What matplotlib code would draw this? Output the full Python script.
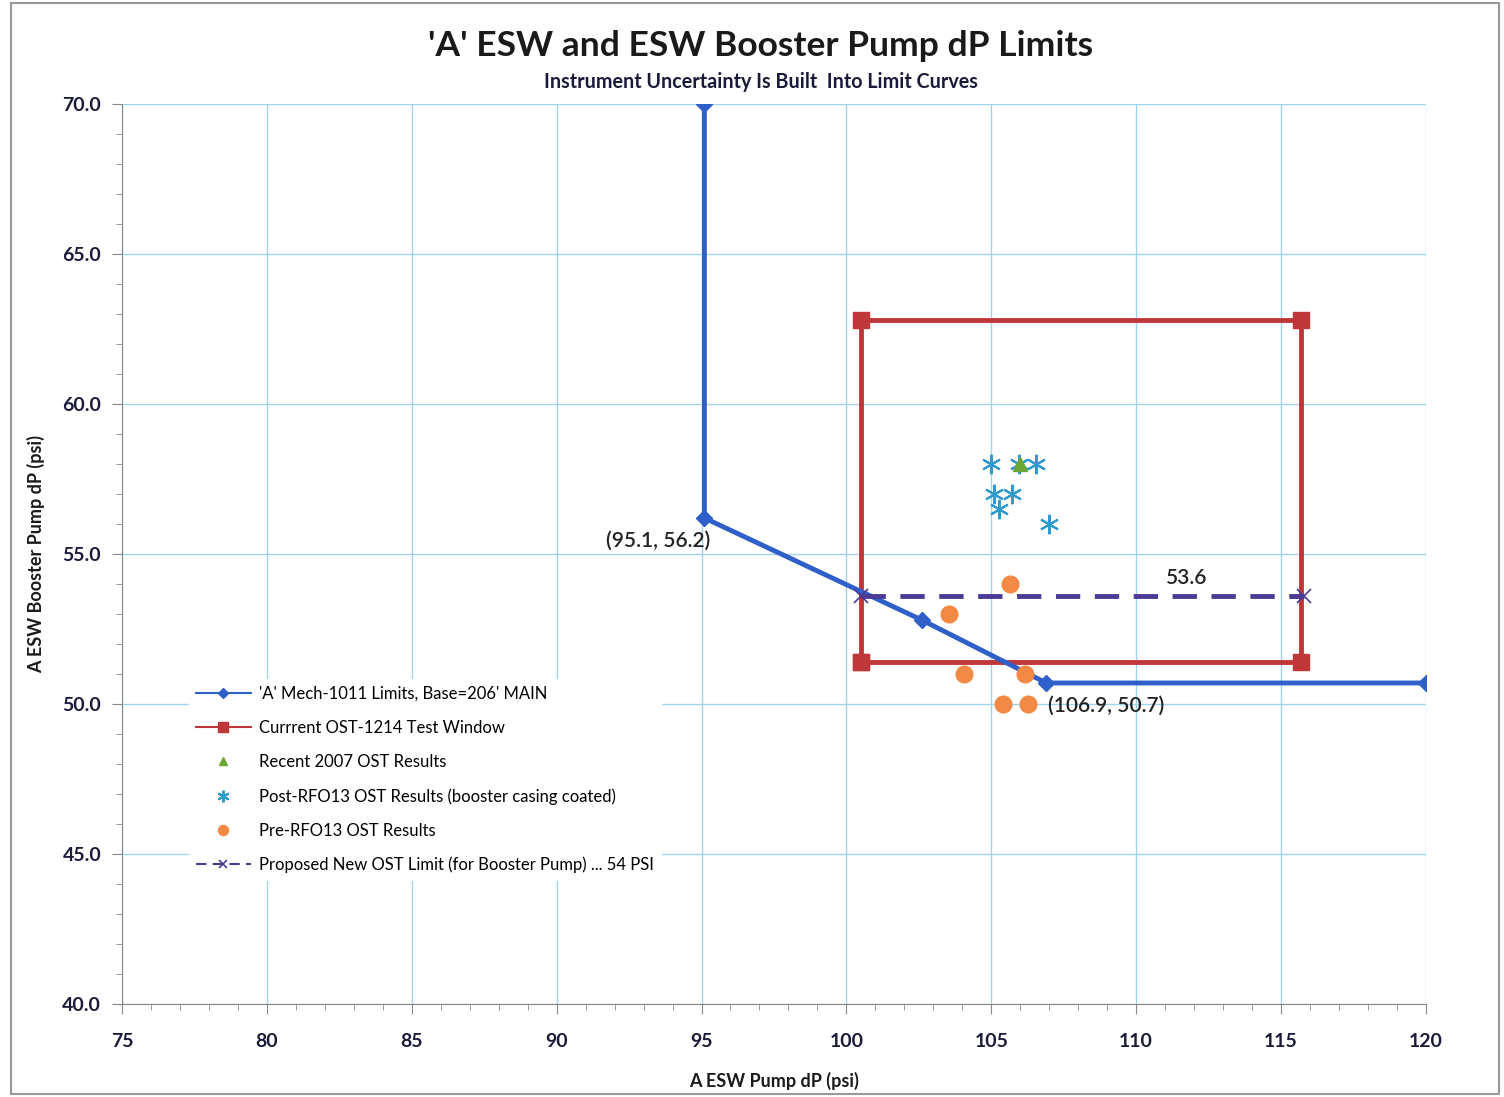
import matplotlib
matplotlib.use("Agg")
import matplotlib.pyplot as plt
from matplotlib.patches import Rectangle
from matplotlib.ticker import MultipleLocator, FormatStrFormatter

plt.rcParams['font.family'] = 'Lato'

# ---- data ----
limit_x = [95.1, 95.1, 102.6, 106.9, 120.0]
limit_y = [70.0, 56.2, 52.8, 50.7, 50.7]

window_x = [100.5, 100.5, 115.7, 115.7, 100.5]
window_y = [51.4, 62.8, 62.8, 51.4, 51.4]

recent_x = [106.0]
recent_y = [58.0]

post_x = [105.0, 105.95, 106.55, 105.1, 105.7, 105.25, 107.0]
post_y = [58.0, 58.0, 58.0, 57.0, 57.0, 56.5, 56.0]

pre_x = [105.65, 103.55, 104.05, 106.15, 105.4, 106.25]
pre_y = [54.0, 53.0, 51.0, 51.0, 50.0, 50.0]

prop_x = [100.5, 115.8]
prop_y = [53.6, 53.6]

labels = ["'A' Mech-1011 Limits, Base=206' MAIN",
          "Currrent OST-1214 Test Window",
          "Recent 2007 OST Results",
          "Post-RFO13 OST Results (booster casing coated)",
          "Pre-RFO13 OST Results",
          "Proposed New OST Limit (for Booster Pump) ... 54 PSI"]

fig = plt.figure(figsize=(15.04, 10.97), dpi=100)
ax = fig.add_axes([0.0811, 0.0848, 0.8670, 0.8204])

blue = '#2f5fc8'
red = '#c0373a'
green = '#6aa535'
cyan = '#2f9ad0'
orange = '#f28a45'
purple = '#4b3a96'
grid_c = '#9fd3f0'

l1, = ax.plot(limit_x, limit_y, color=blue, lw=3.5, marker='D', ms=8, zorder=4)
l2, = ax.plot(window_x, window_y, color=red, lw=3.5, marker='s', ms=12, zorder=3)
l3, = ax.plot(recent_x, recent_y, ls='none', marker='^', color=green, ms=10, zorder=6)
l4, = ax.plot(post_x, post_y, ls='none', marker=(6, 2, 0), color=cyan, ms=14, mew=1.5, zorder=5)
l5, = ax.plot(pre_x, pre_y, ls='none', marker='o', color=orange, ms=12, zorder=5)
l6, = ax.plot(prop_x, prop_y, color=purple, lw=3.5, ls=(0, (5, 3)), marker='x', ms=10, mew=1.2, zorder=5)

ax.annotate('(95.1, 56.2)', (95.1, 56.2), xytext=(4, -9), textcoords='offset points',
            ha='right', va='top', fontsize=15, color='#222222', fontweight='semibold')
ax.annotate('(106.9, 50.7)', (106.9, 50.7), xytext=(1, -9), textcoords='offset points',
            ha='left', va='top', fontsize=15, color='#222222', fontweight='semibold')
ax.text(111.75, 53.85, '53.6', fontsize=15, color='#222222', ha='center', va='bottom',
        fontweight='semibold')

ax.set_xlim(75, 120)
ax.set_ylim(40, 70)
ax.xaxis.set_major_locator(MultipleLocator(5))
ax.xaxis.set_minor_locator(MultipleLocator(1))
ax.yaxis.set_major_locator(MultipleLocator(5))
ax.yaxis.set_minor_locator(MultipleLocator(1))
ax.yaxis.set_major_formatter(FormatStrFormatter('%.1f'))
ax.grid(True, which='major', color=grid_c, lw=1.0)
ax.set_axisbelow(True)
for s in ['top', 'right']:
    ax.spines[s].set_visible(False)
for s in ['left', 'bottom']:
    ax.spines[s].set_color('#888888')
ax.tick_params(which='major', length=7, color='#888888', labelsize=14, labelcolor='#1a1a3a')
ax.tick_params(axis='x', which='major', pad=14)
ax.tick_params(axis='y', which='major', pad=8)
ax.tick_params(which='minor', length=4, color='#888888')
for t in ax.get_xticklabels() + ax.get_yticklabels():
    t.set_fontweight('bold')

ax.set_xlabel('A ESW Pump dP (psi)', fontsize=13, fontweight='bold', color='#1a1a1a', labelpad=16)
ax.set_ylabel('A ESW Booster Pump dP (psi)', fontsize=13, fontweight='bold', color='#1a1a1a')
ax.yaxis.set_label_coords(-0.059, 0.5)

fig.text(0.506, 0.958, "'A' ESW and ESW Booster Pump dP Limits", ha='center', va='center',
         fontsize=25.5, fontweight='bold', color='#1a1a1a')
fig.text(0.506, 0.925, 'Instrument Uncertainty Is Built  Into Limit Curves', ha='center', va='center',
         fontsize=14.2, fontweight='bold', color='#1a1a3a')

leg = ax.legend([l1, l2, l3, l4, l5, l6], labels, loc='upper left',
                bbox_to_anchor=(0.045, 0.37), frameon=True, fontsize=12,
                handlelength=3.3, labelspacing=1.08, borderpad=0.4, handletextpad=0.5,
                markerscale=0.6)
leg.get_frame().set_facecolor('white')
leg.get_frame().set_edgecolor('white')
leg.get_frame().set_alpha(1.0)
for lh in leg.get_lines():
    lh.set_linewidth(1.5)

fig.patches.append(Rectangle((0.007, 0.003), 0.99, 0.994, transform=fig.transFigure,
                             fill=False, edgecolor='#999999', lw=1.5))

fig.savefig('out.png', dpi=100)
